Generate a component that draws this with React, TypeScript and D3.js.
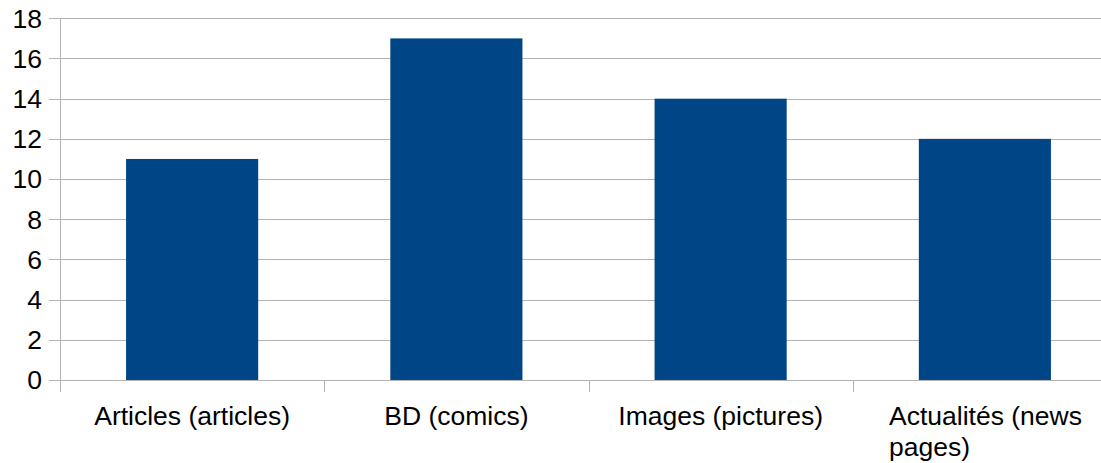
import React, { useEffect, useRef } from 'react';
import * as d3 from 'd3';

const categories = ['Articles (articles)', 'BD (comics)', 'Images (pictures)', 'Actualités (news pages)'];
const labelLines = [['Articles (articles)'], ['BD (comics)'], ['Images (pictures)'], ['Actualités (news', 'pages)']];
const values = [11, 17, 14, 12];
const yTicks = [0, 2, 4, 6, 8, 10, 12, 14, 16, 18];

const App: React.FC = () => {
  const svgRef = useRef<SVGSVGElement>(null);

  useEffect(() => {
    if (!svgRef.current) return;
    const svg = d3.select(svgRef.current);
    svg.selectAll('*').remove();

    const width = 1101;
    const height = 463;
    const left = 60;
    const right = 1117;
    const top = 18.3;
    const bottom = 380;
    const font = '"Liberation Sans", Arial, sans-serif';
    const fontSize = 26.5;

    const x = d3.scaleBand<string>().domain(categories).range([left, right]).paddingInner(0.5).paddingOuter(0.25);
    const y = d3.scaleLinear().domain([0, 18]).range([bottom, top]);

    svg.attr('width', width).attr('height', height);

    // gridlines
    svg
      .append('g')
      .selectAll('line')
      .data(yTicks)
      .enter()
      .append('line')
      .attr('x1', left - 11)
      .attr('x2', width)
      .attr('y1', (d) => Math.round(y(d)) + 0.5)
      .attr('y2', (d) => Math.round(y(d)) + 0.5)
      .attr('stroke', '#b3b3b3')
      .attr('stroke-width', 1);

    // y axis line
    svg
      .append('line')
      .attr('x1', left + 0.5)
      .attr('x2', left + 0.5)
      .attr('y1', top)
      .attr('y2', bottom + 12)
      .attr('stroke', '#b3b3b3');

    // category ticks
    const boundaries = categories.map((_, i) => left + i * x.step());
    svg
      .append('g')
      .selectAll('line')
      .data(boundaries.slice(1))
      .enter()
      .append('line')
      .attr('x1', (d) => Math.round(d) + 0.5)
      .attr('x2', (d) => Math.round(d) + 0.5)
      .attr('y1', bottom)
      .attr('y2', bottom + 12)
      .attr('stroke', '#b3b3b3');

    // bars
    svg
      .append('g')
      .selectAll('rect')
      .data(values)
      .enter()
      .append('rect')
      .attr('x', (d, i) => x(categories[i]) || 0)
      .attr('y', (d) => y(d))
      .attr('width', x.bandwidth())
      .attr('height', (d) => y(0) - y(d))
      .attr('fill', '#004586');

    // y labels
    svg
      .append('g')
      .selectAll('text')
      .data(yTicks)
      .enter()
      .append('text')
      .attr('x', 42)
      .attr('y', (d) => y(d))
      .attr('dy', '0.35em')
      .attr('text-anchor', 'end')
      .attr('font-family', font)
      .attr('font-size', fontSize)
      .attr('fill', '#000')
      .text((d) => d);

    // x labels
    const xl = svg.append('g');
    labelLines.forEach((lines, i) => {
      const cx = (x(categories[i]) || 0) + x.bandwidth() / 2;
      const t = xl
        .append('text')
        .attr('font-family', font)
        .attr('font-size', fontSize)
        .attr('fill', '#000');
      if (lines.length === 1) {
        t.attr('x', cx).attr('y', 425).attr('text-anchor', 'middle').text(lines[0]);
      } else {
        lines.forEach((ln, j) => {
          t.append('tspan').attr('x', 889).attr('y', 425 + j * 31).text(ln);
        });
      }
    });
  }, []);

  return (
    <div style={{ position: 'absolute', left: 0, top: 0 }}>
      <svg ref={svgRef} style={{ display: 'block' }}></svg>
    </div>
  );
};

export default App;
